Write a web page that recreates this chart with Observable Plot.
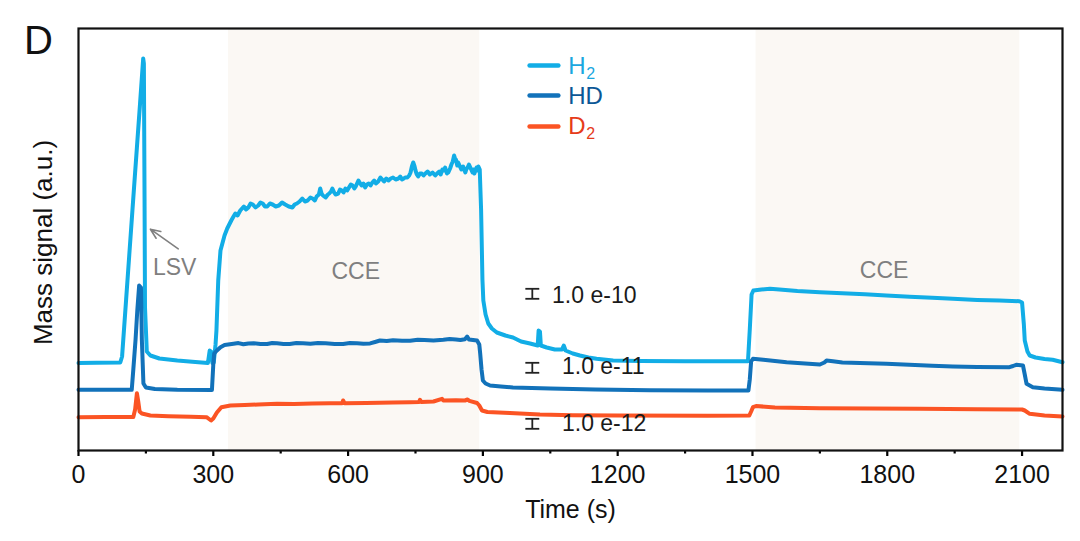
<!DOCTYPE html>
<html>
<head>
<meta charset="utf-8">
<script src="https://cdn.jsdelivr.net/npm/d3@7"></script>
<script src="https://cdn.jsdelivr.net/npm/@observablehq/plot@0.6"></script>
<style>
  html, body { margin: 0; padding: 0; background: #fff; }
  #chart { width: 1080px; height: 541px; }
</style>
</head>
<body>
<div id="chart"></div>
<script>
// ---- Data (time in s, signal in arbitrary units, series offset as in figure) ----
const seriesNames = ["H2", "HD", "D2"];

const h2Points = [
  [0, 86.5], [40, 86.8], [93, 87], [97, 93], [106, 150], [120, 239], [126, 277], [130, 302], [137, 346], [144, 391],
  [145.5, 386], [147, 250], [148, 142], [152, 98], [160, 94], [180, 91], [220, 89], [260, 87.5], [288, 86.5],
  [292, 99], [295, 98], [298, 86.5], [301, 87], [305, 105], [307, 119], [311, 169], [316, 199], [325, 214],
  [331, 221], [340, 229], [345, 233], [349, 236], [354, 234], [360, 239], [364, 241], [368, 243], [373, 240],
  [378, 242], [383, 246], [388, 245], [394, 242], [400, 244], [405, 247], [410, 246], [415, 243], [420, 243],
  [426, 246], [432, 245], [439, 243], [446, 244], [453, 247], [460, 245], [468, 243], [476, 242], [481, 245],
  [486, 246], [492, 248], [498, 251], [504, 248], [510, 249], [516, 252], [521, 251], [526, 249], [530, 253],
  [535, 255], [538, 261], [541, 256], [544, 254], [550, 252], [555, 255], [558, 256], [562, 258], [565, 261],
  [569, 257], [572, 255], [578, 256], [582, 260], [586, 259], [590, 257], [594, 261], [598, 259], [602, 262],
  [606, 265], [610, 264], [614, 261], [617, 263], [620, 266], [623, 269], [627, 266], [630, 264], [634, 266],
  [638, 262], [642, 265], [646, 266], [650, 264], [654, 267], [658, 269], [662, 266], [667, 268], [672, 272],
  [676, 270], [680, 268], [685, 271], [690, 269], [695, 271], [700, 272], [706, 270], [712, 271], [716, 273],
  [720, 270], [724, 271], [727, 272], [732, 272], [736, 274], [739, 277], [742, 283], [745, 287], [748, 283],
  [750, 279], [753, 275], [756, 273], [760, 276], [764, 276], [768, 274], [772, 276], [777, 278], [782, 275],
  [788, 277], [794, 274], [798, 276], [803, 278], [806, 275], [810, 280], [813, 279], [816, 282], [818, 279],
  [820, 276], [823, 277], [827, 281], [830, 285], [833, 288], [836, 294], [838, 291], [840, 290], [843, 284],
  [845, 287], [848, 284], [852, 280], [856, 283], [861, 277], [863, 280], [866, 282], [869, 285], [872, 282],
  [875, 279], [877, 277], [879, 280], [881, 276], [884, 280], [886, 282], [888, 279], [890, 283], [893, 280],
  [896, 240], [899, 170], [901, 149], [906, 135], [912, 126], [920, 121], [931, 117], [950, 114], [967, 112],
  [985, 108], [1005, 106], [1022, 104], [1024, 119], [1027, 118], [1029, 104], [1042, 102], [1060, 100],
  [1076, 100], [1080, 104], [1084, 99], [1100, 96], [1116, 94], [1135, 92], [1153, 90.7], [1190, 89],
  [1250, 88.5], [1350, 88.3], [1450, 88.3], [1490, 88.3], [1494, 120], [1498, 155], [1502, 159], [1520, 160],
  [1539, 160.7], [1560, 160], [1600, 158.5], [1650, 157.3], [1700, 156.3], [1750, 155.2], [1798, 154],
  [1850, 152.8], [1900, 151.7], [1946, 150.7], [2000, 149.6], [2050, 149], [2094, 148.3], [2100, 147],
  [2104, 125], [2106, 109], [2112, 98], [2117, 94], [2130, 92], [2150, 90.5], [2168, 89.7], [2190, 87.3]
];

const hdPoints = [
  [0, 59.7], [60, 59.7], [118.5, 59.7], [122, 80], [127, 110], [131, 140], [135, 164], [139, 162],
  [141, 110], [144.5, 66], [150, 62], [170, 60.5], [220, 59.7], [297, 59.5], [300, 85], [302, 96],
  [308, 99], [316, 102.3], [325, 104.5], [345, 105.7], [356, 106.4], [367, 105.2], [378, 106], [390, 106.3],
  [405, 105.4], [420, 105.5], [431, 106.5], [442, 106.3], [456, 105.6], [470, 105.4], [485, 106.4], [500, 106.3],
  [516, 105.7], [533, 106.5], [550, 106.2], [570, 105.6], [589, 105.5], [604, 106.4], [620, 106.3], [634, 105.8],
  [649, 106.1], [660, 107.5], [671, 109], [686, 108.5], [700, 109.3], [720, 108.7], [738, 108.8], [755, 109.7],
  [770, 109.5], [790, 109], [812, 109.7], [826, 110.4], [840, 110], [850, 109.5], [860, 110.3],
  [865, 113], [869, 110], [878, 109.6], [887, 109], [892, 105], [894, 96], [897, 80], [900, 69], [906, 66], [916, 64],
  [940, 63], [967, 62], [1050, 61], [1150, 60], [1272, 59.3], [1400, 59], [1491, 59], [1494, 70], [1497, 88],
  [1501, 90.7], [1524, 89.7], [1576, 87.3], [1650, 85], [1660, 87], [1665, 89], [1679, 88.3], [1700, 87],
  [1798, 85.7], [1900, 83.8], [1946, 83], [2000, 82.5], [2072, 82.3], [2080, 83.5], [2087, 84.7], [2102, 84],
  [2106, 75], [2110, 65.7], [2124, 62.3], [2150, 61], [2190, 59.7]
];

const d2Points = [
  [0, 32.3], [60, 32.5], [122, 32.5], [126, 40], [130, 56.3], [133, 48], [136, 38], [141, 36], [160, 34],
  [200, 33.3], [250, 32.8], [285, 32.3], [292, 30], [295, 29], [300, 31], [308, 37], [318, 42.3], [338, 44],
  [370, 44.5], [400, 45], [442, 45.7], [480, 45.5], [520, 46], [560, 46.2], [587, 46.3], [589, 49], [592, 46.3],
  [640, 46.5], [700, 47], [738, 47.3], [758, 47.5], [760, 49.7], [763, 47.5], [790, 48], [809, 50.7], [812, 49],
  [840, 49.3], [860, 49], [866, 50], [870, 48.6], [887, 46.5], [892, 44], [898, 39], [910, 37.5], [960, 36.5],
  [1027, 35], [1100, 34.3], [1200, 34], [1400, 33.8], [1493, 34], [1497, 38], [1501, 42.3], [1508, 43.5],
  [1550, 42], [1650, 41.3], [1760, 41], [1872, 40.7], [2000, 40.3], [2100, 40], [2106, 39], [2117, 35.7],
  [2150, 34], [2190, 33]
];

// CCE windows, s
const cceStart = [334, 1508];
const cceEnd = [893, 2095];

// x-axis ticks
const majorTicks = [0, 300, 600, 900, 1200, 1500, 1800, 2100];
const minorTicks = [150, 450, 750, 1050, 1350, 1650, 1950];

// Scale bars
const scaleLabels = ["1.0 e-10", "1.0 e-11", "1.0 e-12"];
const scaleBarT = [1010, 1010, 1010];
const scaleBarV = [155.7, 81.7, 25.7];
const scaleLabelT = [1054, 1076, 1076];
const scaleLabelV = [154, 83, 25.7];

// ---- Styling ----
const colors = {H2: "#12ade6", HD: "#1272ba", D2: "#fb5424"};
const legendTextColors = {H2: "#1aa7df", HD: "#0b5796", D2: "#e63b1a"};
const FONT = "'Liberation Sans', Arial, Helvetica, sans-serif";

const toRows = (pts, name) => pts.map(([t, v]) => ({t, v, series: name}));
const allRows = [...toRows(h2Points, "H2"), ...toRows(hdPoints, "HD"), ...toRows(d2Points, "D2")];

const cceRows = cceStart.map((s, i) => ({x1: s, x2: cceEnd[i]}));
const yDom = [-1, 421];

const bars = scaleLabels.map((label, i) => ({label, t: scaleBarT[i], v: scaleBarV[i], lt: scaleLabelT[i], lv: scaleLabelV[i]}));
const capHalfT = 15.5, capHalfV = 5;
const caps = bars.flatMap(b => [
  {x1: b.t - capHalfT, x2: b.t + capHalfT, y: b.v + capHalfV},
  {x1: b.t - capHalfT, x2: b.t + capHalfT, y: b.v - capHalfV}
]);

// legend (data coords inside plot)
const legend = [
  {name: "H2", base: "H", sub: "2", v: 384, tv: 383},
  {name: "HD", base: "HD", sub: "", v: 354, tv: 353},
  {name: "D2", base: "D", sub: "2", v: 323, tv: 323}
];
const legendX1 = 1004, legendX2 = 1068, legendTextX = 1090;

const chart = Plot.plot({
  width: 1080,
  height: 541,
  marginLeft: 78,
  marginRight: 18,
  marginTop: 28,
  marginBottom: 91,
  style: {fontFamily: FONT, background: "#fff", overflow: "visible"},
  x: {domain: [0, 2190]},
  y: {domain: yDom, axis: null},
  marks: [
    Plot.rect(cceRows, {x1: "x1", x2: "x2", y1: yDom[0], y2: yDom[1], fill: "#fbf8f4"}),
    Plot.line(allRows, {
      x: "t", y: "v", z: "series",
      stroke: d => colors[d.series],
      strokeWidth: 4, strokeLinejoin: "round", strokeLinecap: "round"
    }),
    // annotations
    Plot.arrow([{x1: 222, y1: 200.7, x2: 160, y2: 220.3}], {
      x1: "x1", y1: "y1", x2: "x2", y2: "y2",
      stroke: "#808080", strokeWidth: 1.6, headLength: 10, headAngle: 45
    }),
    Plot.text([{t: 214, v: 182.3, s: "LSV"}], {x: "t", y: "v", text: "s", fontSize: 23, fill: "#7f7f7f"}),
    Plot.text([{t: 617, v: 177.5, s: "CCE"}, {t: 1793, v: 179, s: "CCE"}], {x: "t", y: "v", text: "s", fontSize: 23, fill: "#7f7f7f"}),
    // scale bars
    Plot.link(bars, {x1: "t", x2: "t", y1: d => d.v - capHalfV, y2: d => d.v + capHalfV, stroke: "#222", strokeWidth: 1.8}),
    Plot.link(caps, {x1: "x1", x2: "x2", y1: "y", y2: "y", stroke: "#222", strokeWidth: 1.8}),
    Plot.text(bars, {x: "lt", y: "lv", text: "label", textAnchor: "start", fontSize: 23, fill: "#1a1a1a"}),
    // legend
    Plot.link(legend, {x1: () => legendX1, x2: () => legendX2, y1: "v", y2: "v", stroke: d => colors[d.name], strokeWidth: 4.5, strokeLinecap: "round"}),
    Plot.text(legend, {x: () => legendTextX, y: "tv", text: "base", textAnchor: "start", fontSize: 24, fill: d => legendTextColors[d.name]}),
    Plot.text(legend.filter(d => d.sub), {x: () => legendTextX, y: "tv", text: "sub", textAnchor: "start", dx: 18, dy: 7, fontSize: 16, fill: d => legendTextColors[d.name]}),
    // axes
    Plot.axisX({ticks: majorTicks, tickSize: 6, tickPadding: 9, fontSize: 25, strokeWidth: 2.2, label: null, fill: "#111", tickFormat: d => String(d)}),
    Plot.axisX({ticks: minorTicks, tickSize: 3.5, tickFormat: () => "", strokeWidth: 2.2, label: null}),
    Plot.frame({stroke: "#111", strokeWidth: 2.2}),
    // titles
    Plot.text(["Time (s)"], {text: d => d, frameAnchor: "bottom", lineAnchor: "middle", textAnchor: "middle", dy: 59, fontSize: 25, fill: "#111"}),
    Plot.text(["Mass signal (a.u.)"], {text: d => d, frameAnchor: "left", textAnchor: "middle", lineAnchor: "middle", dx: -35, dy: 3, rotate: -90, fontSize: 26, fill: "#111"}),
    Plot.text(["D"], {text: d => d, frameAnchor: "top-left", textAnchor: "middle", lineAnchor: "middle", dx: -40, dy: 13, fontSize: 40, fill: "#111"})
  ]
});

document.getElementById("chart").appendChild(chart);
</script>
</body>
</html>
